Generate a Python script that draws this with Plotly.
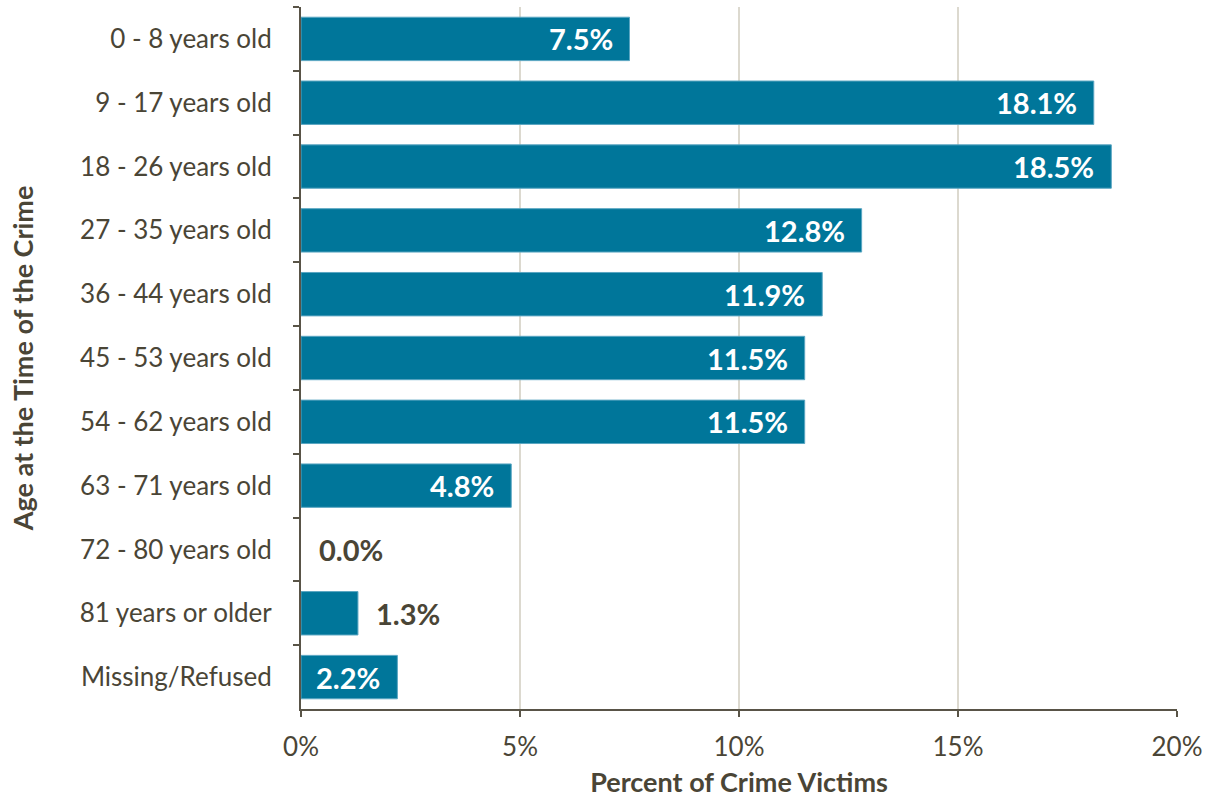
import plotly.graph_objects as go

# Age groups at the time of the crime and share of victims (%)
age_groups = [
    "0 - 8 years old",
    "9 - 17 years old",
    "18 - 26 years old",
    "27 - 35 years old",
    "36 - 44 years old",
    "45 - 53 years old",
    "54 - 62 years old",
    "63 - 71 years old",
    "72 - 80 years old",
    "81 years or older",
    "Missing/Refused",
]
percent_victims = [7.5, 18.1, 18.5, 12.8, 11.9, 11.5, 11.5, 4.8, 0.0, 1.3, 2.2]

x_ticks = [0, 5, 10, 15, 20]
x_tick_labels = ["0%", "5%", "10%", "15%", "20%"]

BAR = "#00769a"
TEXT = "#4a4536"
AXIS = "#595447"
FONT = "Lato, Open Sans, sans-serif"

fig = go.Figure(
    go.Bar(
        x=percent_victims,
        y=age_groups,
        orientation="h",
        marker=dict(
            color=BAR,
            # no outline on empty bars so nothing is drawn for 0%
            line=dict(color="#5aa6c2", width=[1 if v > 0 else 0 for v in percent_victims]),
        ),
        width=0.68,
        hoverinfo="x+y",
    )
)

# Value labels: white inside the end of long bars, dark just past short ones
for grp, v in zip(age_groups, percent_victims):
    inside = v >= 2
    fig.add_annotation(
        x=v,
        y=grp,
        xref="x",
        yref="y",
        text=f"<b>{v:.1f}%</b>",
        showarrow=False,
        xanchor="right" if inside else "left",
        xshift=-15 if inside else 16,
        font=dict(family=FONT, size=29, color="white" if inside else TEXT),
    )

fig.update_layout(
    width=1212,
    height=800,
    margin=dict(l=301, r=35, t=7, b=91),
    paper_bgcolor="white",
    plot_bgcolor="white",
    font=dict(family=FONT, color=TEXT),
    showlegend=False,
)

fig.update_xaxes(
    range=[0, 20],
    tickvals=x_ticks,
    ticktext=x_tick_labels,
    tickfont=dict(size=26, color=TEXT),
    showgrid=True,
    gridcolor="#dcd9cf",
    gridwidth=2,
    zeroline=False,
    showline=True,
    linecolor=AXIS,
    linewidth=2,
    ticks="outside",
    ticklen=6,
    tickwidth=2,
    tickcolor=AXIS,
    ticklabelstandoff=8,
    title=dict(
        text="Percent of Crime Victims",
        font=dict(size=27, color=TEXT, weight="bold"),
        standoff=12,
    ),
)

fig.update_yaxes(
    categoryorder="array",
    categoryarray=age_groups,
    autorange="reversed",
    tickfont=dict(size=26, color=TEXT),
    showgrid=False,
    showline=True,
    linecolor=AXIS,
    linewidth=2,
    ticks="outside",
    tickson="boundaries",
    ticklen=6,
    tickwidth=2,
    tickcolor=AXIS,
    ticklabelstandoff=22,
    title=dict(
        text="Age at the Time of the Crime",
        font=dict(size=27, color=TEXT, weight="bold"),
        standoff=38,
    ),
)

fig.write_html("out.html")
